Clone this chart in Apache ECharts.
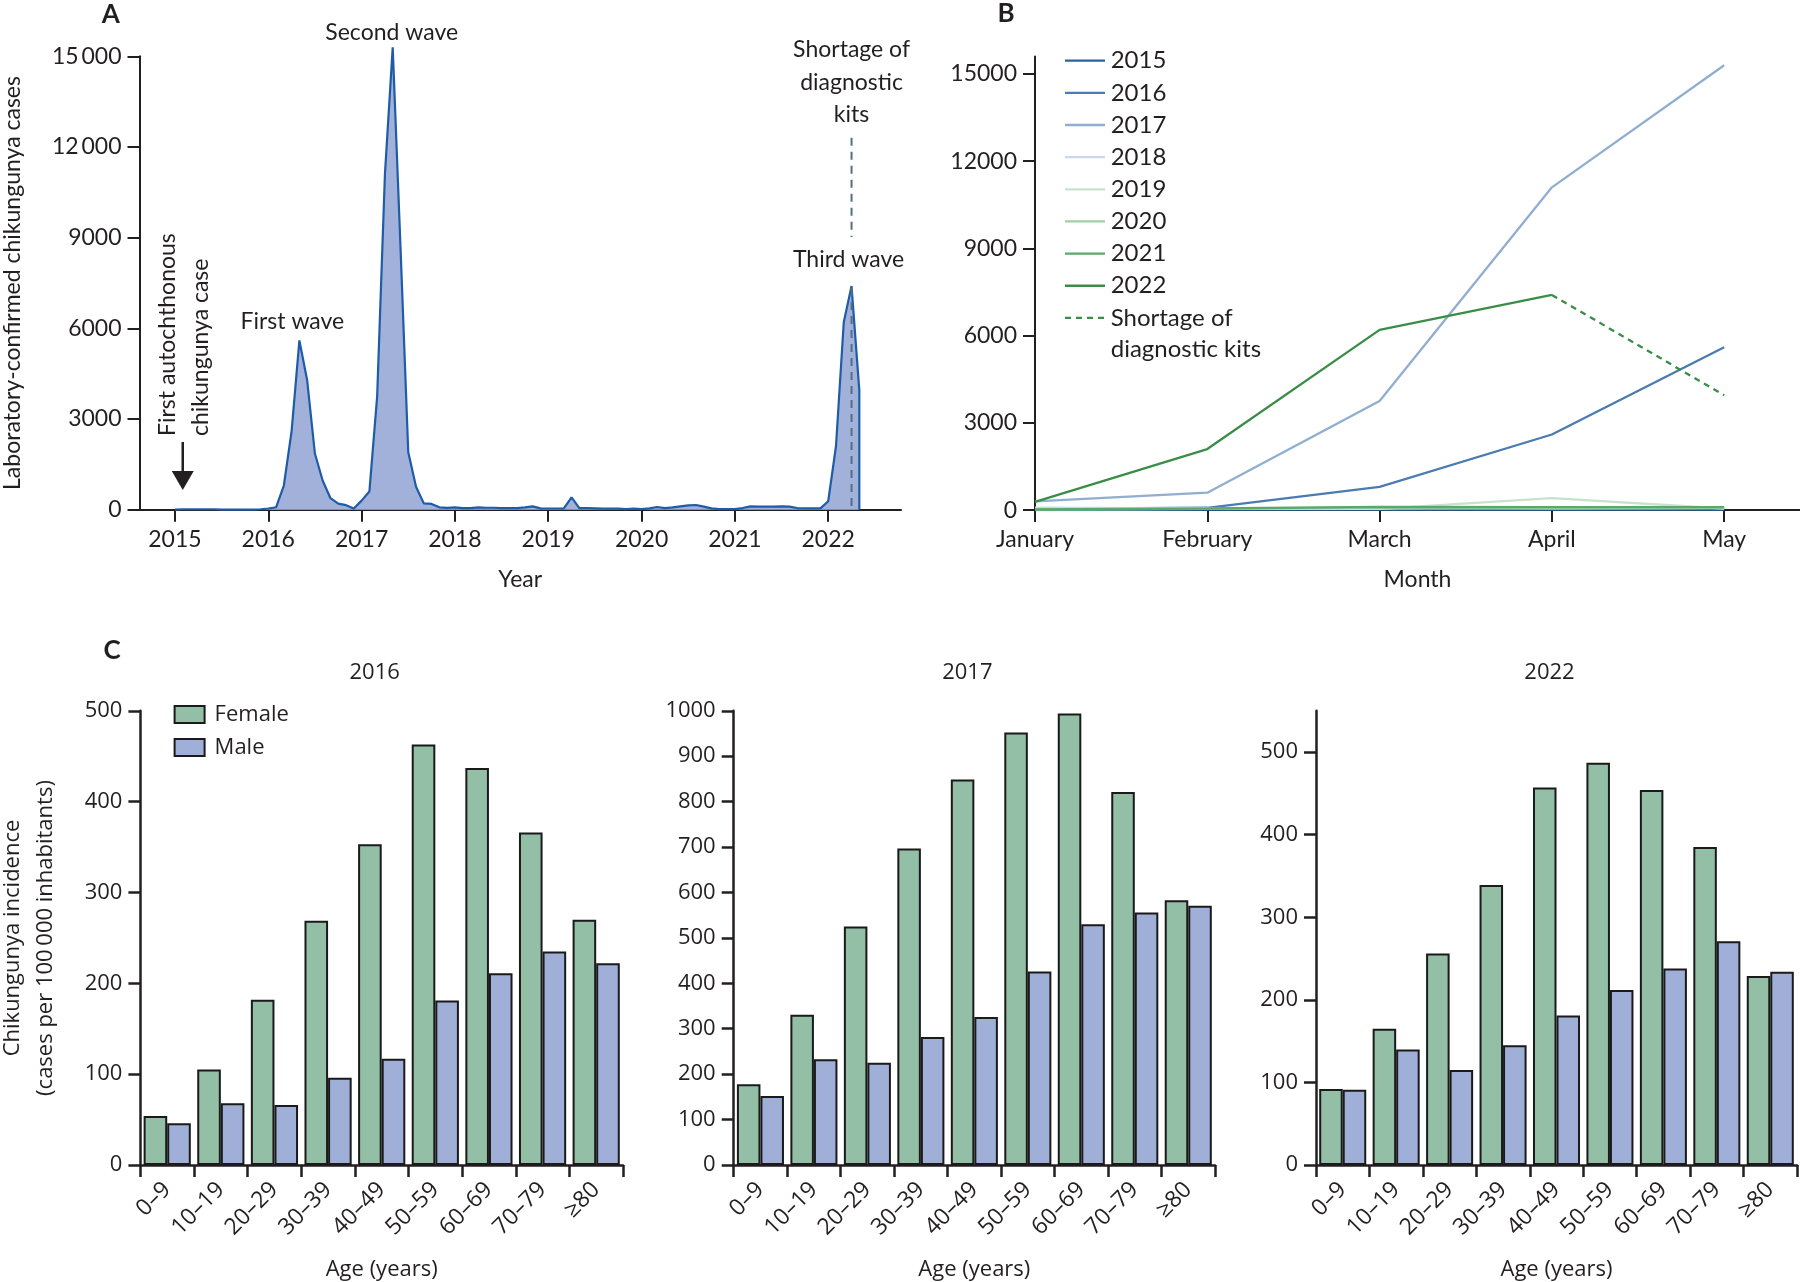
<!DOCTYPE html>
<html>
<head>
<meta charset="utf-8">
<script src="https://cdn.jsdelivr.net/npm/echarts@6/dist/echarts.min.js"></script>
<style>html,body{margin:0;padding:0;background:#fff}#c{width:1800px;height:1282px}</style>
</head>
<body>
<div id="c"></div>
<script>
// ---------- Panel A: monthly laboratory-confirmed cases (Jan..Dec) ----------
const yearsA = [2015, 2016, 2017, 2018, 2019, 2020, 2021, 2022];
const cases2015 = [0, 15, 15, 15, 15, 15, 5, 0, 0, 0, 5, 15];
const cases2016 = [40, 80, 800, 2600, 5600, 4280, 1850, 960, 380, 200, 150, 40];
const cases2017 = [300, 600, 3750, 11100, 15300, 8700, 1900, 760, 210, 190, 80, 60];
const cases2018 = [80, 55, 55, 75, 65, 65, 55, 55, 55, 75, 110, 45];
const cases2019 = [40, 40, 40, 410, 55, 55, 45, 33, 33, 33, 22, 33];
const cases2020 = [20, 45, 90, 55, 75, 110, 145, 155, 100, 45, 20, 20];
const cases2021 = [20, 55, 110, 100, 100, 100, 110, 100, 55, 45, 45, 45];
const cases2022 = [280, 2100, 6200, 7400, 3950];
const yearTicksA = [2015, 2016, 2017, 2018, 2019, 2020, 2021, 2022];
const yTicksA = [0, 3000, 6000, 9000, 12000, 15000];

// ---------- Panel B: Jan-May by year ----------
const months = ['January', 'February', 'March', 'April', 'May'];
const monthTicksB = [0, 1, 2, 3, 4];
const yTicksB = [0, 3000, 6000, 9000, 12000, 15000];
const seriesNamesB = ['2015', '2016', '2017', '2018', '2019', '2020', '2021', '2022'];
const colorsB = ['#2c62a0', '#4b7cb1', '#90aed0', '#c9d9eb', '#c7e3cb', '#9dd0a4', '#5aa968', '#3a8d47'];
const shortageName = 'Shortage of\ndiagnostic kits';

// ---------- Panel C: incidence per 100 000 by age ----------
const ageGroups = ['0–9', '10–19', '20–29', '30–39', '40–49', '50–59', '60–69', '70–79', '≥80'];
const female2016 = [54, 105, 182, 269, 353, 463, 437, 366, 270];
const male2016 = [46, 68, 66, 96, 117, 181, 211, 235, 222];
const female2017 = [178, 331, 525, 697, 849, 952, 994, 821, 583];
const male2017 = [152, 233, 225, 282, 326, 426, 530, 556, 571];
const female2022 = [92, 165, 256, 339, 457, 487, 454, 385, 229];
const male2022 = [91, 140, 115, 145, 181, 212, 238, 271, 234];
const yTicksC2016 = [0, 100, 200, 300, 400, 500];
const yTicksC2017 = [0, 100, 200, 300, 400, 500, 600, 700, 800, 900, 1000];
const yTicksC2022 = [0, 100, 200, 300, 400, 500];

const casesByYear = [cases2015, cases2016, cases2017, cases2018, cases2019, cases2020, cases2021, cases2022];

const FA = 'Lato, "Liberation Sans", sans-serif';
const FC = '"Open Sans", "Noto Sans", sans-serif';
const INK = '#231f20';

const chart = echarts.init(document.getElementById('c'), null, {renderer: 'canvas', width: 1800, height: 1282});

// Panel A data
const dataA = [];
yearsA.forEach((y, i) => casesByYear[i].forEach((v, m) => dataA.push([y + m / 12, v])));
const lastXA = dataA[dataA.length - 1][0];
dataA.push([lastXA, 0]); // close the area at the end of the record

const thin = v => (v >= 10000 ? String(v).replace(/(\d)(\d{3})$/, '$1\u2009$2') : String(v));

function axisLineStyle() { return {show: true, lineStyle: {color: INK, width: 2}}; }
function ticks(values, len) { return {show: true, length: len || 12, customValues: values, lineStyle: {color: INK, width: 2}}; }

const grids = [
  {left: 139.5, top: 56.3, width: 761.5, height: 453.4},
  {left: 1035, top: 56.5, width: 765, height: 453.6},
  {left: 140.4, top: 710.8, width: 482.6, height: 454.2},
  {left: 733.7, top: 710.8, width: 481.3, height: 454.2},
  {left: 1316, top: 710.8, width: 481, height: 454.2}
].map(g => Object.assign({containLabel: false, outerBoundsMode: 'none'}, g));

const xAxes = [
  {
    gridIndex: 0, type: 'value', min: 2014.62, max: 2022.78,
    axisLine: axisLineStyle(), splitLine: {show: false},
    axisTick: ticks(yearTicksA),
    axisLabel: {customValues: yearTicksA, formatter: v => String(Math.round(v)), fontSize: 23, fontFamily: FA, color: INK, margin: 18},
    name: 'Year', nameLocation: 'middle', nameGap: 58, nameTextStyle: {fontSize: 23, fontFamily: FA, color: INK}
  },
  {
    gridIndex: 1, type: 'value', min: 0, max: 4.44,
    axisLine: axisLineStyle(), splitLine: {show: false},
    axisTick: ticks(monthTicksB),
    axisLabel: {customValues: monthTicksB, formatter: v => months[Math.round(v)], fontSize: 23, fontFamily: FA, color: INK, margin: 18},
    name: 'Month', nameLocation: 'middle', nameGap: 58, nameTextStyle: {fontSize: 23, fontFamily: FA, color: INK}
  }
];
const yAxes = [
  {
    gridIndex: 0, type: 'value', min: 0, max: 15000, interval: 3000,
    axisLine: axisLineStyle(), splitLine: {show: false},
    axisTick: ticks(yTicksA),
    axisLabel: {customValues: yTicksA, formatter: thin, fontSize: 23, fontFamily: FA, color: INK, margin: 18},
    name: 'Laboratory-confirmed chikungunya cases', nameLocation: 'middle', nameGap: 115, nameRotate: 90,
    nameTextStyle: {fontSize: 23, fontFamily: FA, color: INK}
  },
  {
    gridIndex: 1, type: 'value', min: 0, max: 15600,
    axisLine: axisLineStyle(), splitLine: {show: false},
    axisTick: ticks(yTicksB),
    axisLabel: {customValues: yTicksB, formatter: v => String(v), fontSize: 23, fontFamily: FA, color: INK, margin: 18}
  }
];

const panelsC = [
  {f: female2016, m: male2016, max: 500, ticks: yTicksC2016, title: '2016'},
  {f: female2017, m: male2017, max: 1000, ticks: yTicksC2017, title: '2017'},
  {f: female2022, m: male2022, max: 550, ticks: yTicksC2022, title: '2022'}
];
panelsC.forEach((p, i) => {
  xAxes.push({
    gridIndex: 2 + i, type: 'category', data: ageGroups,
    axisLine: {show: true, lineStyle: {color: INK, width: 2.5}},
    axisTick: {show: true, length: 12, alignWithLabel: false, lineStyle: {color: INK, width: 2.5}},
    axisLabel: {rotate: 45, fontSize: 23, fontFamily: FC, color: INK, margin: 21, interval: 0},
    name: 'Age (years)', nameLocation: 'middle', nameGap: 94, nameTextStyle: {fontSize: 22, fontFamily: FC, color: INK}
  });
  yAxes.push({
    gridIndex: 2 + i, type: 'value', min: 0, max: p.max,
    axisLine: {show: true, lineStyle: {color: INK, width: 2.5}}, splitLine: {show: false},
    axisTick: {show: true, length: 12, customValues: p.ticks, lineStyle: {color: INK, width: 2.5}},
    axisLabel: {customValues: p.ticks, formatter: v => String(v), fontSize: 22, fontFamily: FC, color: INK, margin: 18}
  });
});

const series = [];
series.push({
  type: 'line', xAxisIndex: 0, yAxisIndex: 0, data: dataA, symbol: 'none', clip: false,
  lineStyle: {color: '#1f5ca8', width: 2.2}, areaStyle: {color: '#a2b1d9', opacity: 1}, z: 2
});
seriesNamesB.forEach((name, i) => {
  const vals = casesByYear[i].slice(0, 5);
  const pts = (name === '2022' ? vals.slice(0, 4) : vals).map((v, m) => [m, v]);
  series.push({
    type: 'line', name, xAxisIndex: 1, yAxisIndex: 1, data: pts, symbol: 'none',
    lineStyle: {color: colorsB[i], width: 2.3}, z: 3 + (i === 2 || i === 7 ? 2 : 0)
  });
});
series.push({
  type: 'line', name: shortageName, xAxisIndex: 1, yAxisIndex: 1,
  data: [[3, cases2022[3]], [4, cases2022[4]]], symbol: 'none',
  lineStyle: {color: colorsB[7], width: 2.3, type: [6, 5]}, z: 5
});
const femaleColor = '#93bfa6', maleColor = '#a0afd7';
panelsC.forEach((p, i) => {
  series.push({type: 'bar', name: 'Female', xAxisIndex: 2 + i, yAxisIndex: 2 + i, data: p.f,
    barGap: '0%', barCategoryGap: '12%', itemStyle: {color: femaleColor, borderColor: '#1a1a1a', borderWidth: 2}});
  series.push({type: 'bar', name: 'Male', xAxisIndex: 2 + i, yAxisIndex: 2 + i, data: p.m,
    barGap: '0%', barCategoryGap: '12%', itemStyle: {color: maleColor, borderColor: '#1a1a1a', borderWidth: 2}});
});

chart.setOption({
  animation: false,
  backgroundColor: '#ffffff',
  grid: grids,
  xAxis: xAxes,
  yAxis: yAxes,
  series,
  legend: {
    data: ['Female', 'Male'], left: 173.6, top: 703.5, orient: 'vertical', padding: 0,
    itemWidth: 30, itemHeight: 17, itemGap: 11, icon: 'rect',
    textStyle: {fontSize: 22, fontFamily: FC, color: INK, padding: [0, 0, 0, 5]}
  }
});

// ---------- annotations ----------
const px = (g, v) => chart.convertToPixel({gridIndex: g}, v);
const G = [];
function txt(text, x, y, opts) {
  const o = opts || {};
  G.push({type: 'text', x, y, rotation: o.rot || 0, z: 100,
    style: Object.assign({text, fill: INK, font: (o.font || ('23px ' + FA)),
      textAlign: o.align || 'center', align: o.align || 'center',
      textVerticalAlign: o.va || 'middle', verticalAlign: o.va || 'middle'}, o.extra || {})});
}
function seg(x1, y1, x2, y2, color, width, dash) {
  G.push({type: 'line', z: 100, shape: {x1, y1, x2, y2},
    style: {stroke: color, lineWidth: width, lineDash: dash || null}});
}
// panel letters
txt('A', 110.8, 14.5, {font: 'bold 26px ' + FA});
txt('B', 1006, 13.5, {font: 'bold 26px ' + FA});
txt('C', 112, 651, {font: 'bold 26px ' + FA});

const p1 = px(0, [2016 + 4 / 12, cases2016[4]]);
const p2 = px(0, [2017 + 4 / 12, cases2017[4]]);
const p3 = px(0, [2022 + 3 / 12, cases2022[3]]);
const base = px(0, [2022 + 3 / 12, 0]);
txt('First wave', p1[0] - 7, p1[1] - 19);
txt('Second wave', p2[0] - 1, p2[1] - 15);
txt('Third wave', p3[0] - 3, p3[1] - 26);
txt('Shortage of\ndiagnostic\nkits', p3[0], 82.3, {extra: {lineHeight: 32.5}});
seg(p3[0], 137.7, p3[0], 237, '#53707f', 2, [8, 6]);
seg(p3[0], p3[1] + 2, p3[0], base[1], '#53707f', 2, [8, 6]);
// first autochthonous case arrow
const pa = px(0, [2015 + 1 / 12, 0]);
seg(pa[0], 442, pa[0], 474, INK, 2.5);
G.push({type: 'polygon', z: 100, shape: {points: [[pa[0] - 11, 471], [pa[0] + 11, 471], [pa[0], 490]]}, style: {fill: INK}});
txt('First autochthonous', pa[0] - 15, 436, {rot: Math.PI / 2, align: 'left'});
txt('chikungunya case', pa[0] + 18, 436, {rot: Math.PI / 2, align: 'left'});

// panel B legend
const legendRows = seriesNamesB.concat([shortageName]);
legendRows.forEach((name, i) => {
  const y = 60.7 + i * 32.15;
  const isShort = i === seriesNamesB.length;
  seg(1065, y, 1105, y, colorsB[Math.min(i, 7)], 2.3, isShort ? [6, 5] : null);
  if (isShort) txt(name, 1110.7, y - 15.5, {align: 'left', va: 'top', font: '24px ' + FA, extra: {lineHeight: 31}});
  else txt(name, 1110.7, y, {align: 'left', font: '24px ' + FA});
});

// panel C titles + y title
panelsC.forEach((p, i) => {
  const g = grids[2 + i];
  txt(p.title, g.left + g.width / 2 - 7, 672.8, {font: '22px ' + FC});
});
txt('Chikungunya incidence', 12.3, 938, {rot: Math.PI / 2, font: '22px ' + FC});
txt('(cases per 100\u2009000 inhabitants)', 45.9, 938, {rot: Math.PI / 2, font: '22px ' + FC});

chart.setOption({graphic: G});
</script>
</body>
</html>
